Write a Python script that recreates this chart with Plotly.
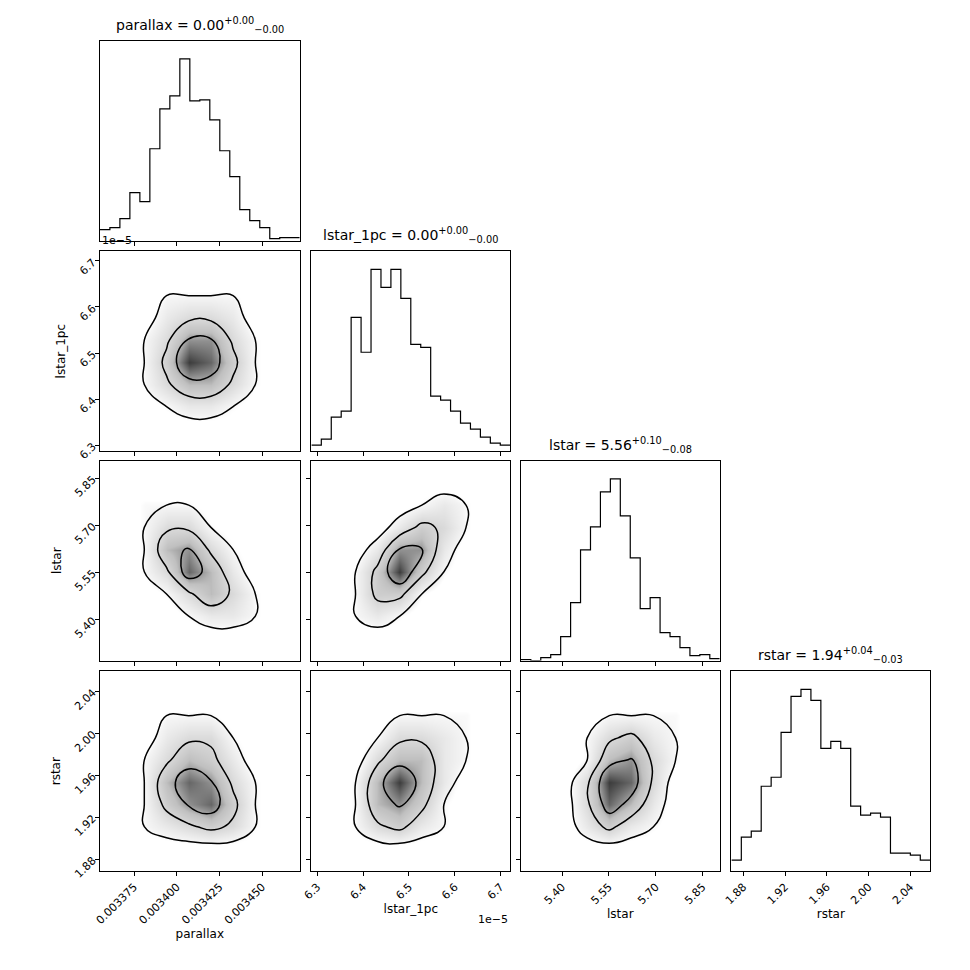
import numpy as np
import plotly.graph_objects as go

# parameter names, plot ranges, ticks
names = ["parallax", "lstar_1pc", "lstar", "rstar"]
ranges = [[0.003355, 0.003472], [6.287, 6.721], [5.268, 5.905], [1.8685, 2.059]]
tickvals = [[0.003375, 0.0034, 0.003425, 0.00345],
            [6.3, 6.4, 6.5, 6.6, 6.7],
            [5.40, 5.55, 5.70, 5.85],
            [1.88, 1.92, 1.96, 2.00, 2.04]]
ticktext = [["0.003375", "0.003400", "0.003425", "0.003450"],
            ["6.3", "6.4", "6.5", "6.6", "6.7"],
            ["5.40", "5.55", "5.70", "5.85"],
            ["1.88", "1.92", "1.96", "2.00", "2.04"]]
titles = ["parallax = 0.00<sup>+0.00</sup><sub>−0.00</sub>",
          "lstar_1pc = 0.00<sup>+0.00</sup><sub>−0.00</sub>",
          "lstar = 5.56<sup>+0.10</sup><sub>−0.08</sub>",
          "rstar = 1.94<sup>+0.04</sup><sub>−0.03</sub>"]

# 1D histogram counts (20 bins each)
hist_parallax = [11, 13, 22, 48, 39, 92, 132, 145, 182, 140, 141, 121, 90, 64, 31, 20, 13, 2, 3, 3]
hist_lstar_1pc = [6, 12, 34, 40, 134, 99, 182, 164, 182, 153, 107, 104, 55, 51, 40, 28, 22, 14, 8, 6]
hist_lstar = [1, 0, 3, 6, 24, 58, 111, 134, 169, 182, 145, 103, 52, 63, 28, 24, 13, 5, 6, 2]
hist_rstar = [11, 34, 40, 85, 94, 139, 175, 182, 171, 123, 130, 123, 65, 56, 58, 54, 18, 18, 16, 11]
hists = [hist_parallax, hist_lstar_1pc, hist_lstar, hist_rstar]

# coarse 2D densities (rows = y bins low->high, cols = x bins)
dens_par_l1 = [[0, 0, 0, 0, 0, 0, 0, 0], [0, 0, 1, 2, 2, 1, 0, 0], [0, 1, 3, 5, 5, 3, 1, 0],
               [0, 1, 4, 8, 7, 4, 1, 0], [0, 1, 3, 6, 6, 3, 1, 0], [0, 0, 2, 3, 3, 2, 0, 0],
               [0, 0, 1, 1, 1, 1, 0, 0], [0, 0, 0, 0, 0, 0, 0, 0]]
dens_par_ls = [[0, 0, 0, 0, 0, 0, 0, 0], [0, 0, 0, 1, 2, 2, 1, 0], [0, 0, 1, 3, 5, 3, 1, 0],
               [0, 1, 3, 7, 5, 2, 0, 0], [0, 1, 5, 6, 3, 1, 0, 0], [0, 1, 3, 3, 1, 0, 0, 0],
               [0, 1, 1, 1, 0, 0, 0, 0], [0, 0, 0, 0, 0, 0, 0, 0]]
dens_par_rs = [[0, 0, 0, 0, 0, 0, 0, 0], [0, 1, 2, 3, 4, 3, 1, 0], [0, 1, 4, 6, 7, 4, 1, 0],
               [0, 1, 5, 7, 6, 3, 1, 0], [0, 1, 3, 5, 4, 2, 0, 0], [0, 0, 2, 3, 3, 1, 0, 0],
               [0, 0, 1, 1, 1, 0, 0, 0], [0, 0, 0, 0, 0, 0, 0, 0]]
dens_l1_ls = [[0, 0, 0, 0, 0, 0, 0, 0], [0, 1, 2, 1, 0, 0, 0, 0], [0, 1, 4, 4, 1, 0, 0, 0],
              [0, 1, 4, 8, 4, 1, 0, 0], [0, 0, 2, 6, 6, 2, 0, 0], [0, 0, 0, 2, 4, 3, 1, 0],
              [0, 0, 0, 0, 1, 2, 1, 0], [0, 0, 0, 0, 0, 0, 0, 0]]
dens_l1_rs = [[0, 0, 0, 0, 0, 0, 0, 0], [0, 1, 3, 4, 2, 1, 0, 0], [0, 1, 5, 6, 4, 1, 0, 0],
              [0, 1, 5, 8, 5, 2, 0, 0], [0, 0, 3, 5, 5, 2, 1, 0], [0, 0, 1, 3, 3, 2, 1, 0],
              [0, 0, 0, 1, 1, 1, 1, 0], [0, 0, 0, 0, 0, 0, 0, 0]]
dens_ls_rs = [[0, 0, 0, 0, 0, 0, 0, 0], [0, 0, 2, 4, 2, 1, 0, 0], [0, 0, 3, 7, 5, 2, 0, 0],
              [0, 0, 3, 8, 7, 3, 0, 0], [0, 0, 1, 5, 6, 3, 1, 0], [0, 0, 1, 3, 4, 2, 1, 0],
              [0, 0, 0, 1, 1, 1, 1, 0], [0, 0, 0, 0, 0, 0, 0, 0]]
pairs = {(1, 0): dens_par_l1, (2, 0): dens_par_ls, (3, 0): dens_par_rs,
         (2, 1): dens_l1_ls, (3, 1): dens_l1_rs, (3, 2): dens_ls_rs}

# panel domains (paper coords), nudged for the page's body margin
dx, dy = 8 / 970, 7 / 970
xdom = [[a - dx, b - dx] for a, b in [[0.103, 0.309], [0.321, 0.526], [0.537, 0.742], [0.754, 0.959]]]
ydom = [[a + dy, b + dy] for a, b in [[0.753, 0.959], [0.536, 0.742], [0.320, 0.526], [0.103, 0.309]]]

fig = go.Figure()
layout = {"annotations": []}
font = dict(family="DejaVu Sans", size=11, color="black")
lab_font = dict(family="DejaVu Sans", size=12, color="black")
n = 0
for r in range(4):
    for c in range(r + 1):
        n += 1
        xa, ya = f"x{n}", f"y{n}"
        xk, yk = f"xaxis{n}", f"yaxis{n}"
        bottom = r == 3
        left = c == 0 and r > 0
        ax_common = dict(showline=True, mirror=True, linecolor="black", linewidth=1,
                         ticks="outside", ticklen=4, tickcolor="black", showgrid=False,
                         zeroline=False, tickfont=font, automargin=False)
        layout[xk] = dict(ax_common, domain=xdom[c], anchor=ya, range=ranges[c],
                          tickvals=tickvals[c], ticktext=ticktext[c] if bottom else None,
                          showticklabels=bottom, tickangle=-45)
        if bottom:
            layout[xk]["title"] = dict(text=names[c], font=lab_font, standoff=2)
        if r == c:
            counts = hists[c]
            edges = np.linspace(ranges[c][0], ranges[c][1], len(counts) + 1)
            fig.add_trace(go.Scatter(x=edges, y=counts + [counts[-1]], mode="lines",
                                     line=dict(shape="hv", color="black", width=1.2),
                                     xaxis=xa, yaxis=ya))
            layout[yk] = dict(ax_common, domain=ydom[r], anchor=xa, range=[0, max(counts) * 1.1],
                              showticklabels=False, ticks="")
            layout["annotations"].append(dict(
                text=titles[c], xref="paper", yref="paper", x=sum(xdom[c]) / 2, y=ydom[r][1] + 0.004,
                xanchor="center", yanchor="bottom", showarrow=False,
                font=dict(family="DejaVu Sans", size=14, color="black")))
        else:
            z = np.array(pairs[(r, c)], dtype=float)
            ny, nx = z.shape
            xs = np.linspace(ranges[c][0], ranges[c][1], nx + 2)[1:-1]
            ys = np.linspace(ranges[r][0], ranges[r][1], ny + 2)[1:-1]
            fig.add_trace(go.Heatmap(x=xs, y=ys, z=z, zsmooth="best", zmin=0.8, zmax=9,
                                     colorscale=[[0, "white"], [0.05, "#f4f4f4"], [0.5, "#c0c0c0"],
                                                 [1, "#111111"]],
                                     showscale=False, xaxis=xa, yaxis=ya, hoverinfo="skip"))
            fig.add_trace(go.Contour(x=xs, y=ys, z=z, showscale=False, xaxis=xa, yaxis=ya,
                                     contours=dict(coloring="none", start=1, end=6, size=2.4),
                                     line=dict(color="black", width=1.5, smoothing=1.3),
                                     hoverinfo="skip"))
            layout[yk] = dict(ax_common, domain=ydom[r], anchor=xa, range=ranges[r],
                              tickvals=tickvals[r], ticktext=ticktext[r] if left else None,
                              showticklabels=left, tickangle=-45)
            if left:
                layout[yk]["title"] = dict(text=names[r], font=lab_font, standoff=8)

layout["annotations"] += [
    dict(text="1e−5", xref="paper", yref="paper", x=xdom[0][0], y=ydom[1][1] + 0.002,
         xanchor="left", yanchor="bottom", showarrow=False, font=font),
    dict(text="1e−5", xref="paper", yref="paper", x=xdom[1][1], y=ydom[3][0] - 0.041,
         xanchor="right", yanchor="top", showarrow=False, font=font),
]
fig.update_layout(width=970, height=970, margin=dict(l=0, r=0, t=0, b=0), showlegend=False,
                  plot_bgcolor="white", paper_bgcolor="white", **layout)
fig.write_html("out.html")
